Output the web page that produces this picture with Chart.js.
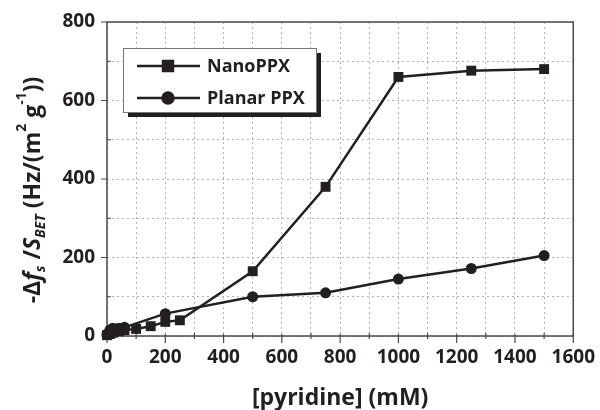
<!DOCTYPE html>
<html>
<head>
<meta charset="utf-8">
<script src="https://cdn.jsdelivr.net/npm/chart.js@4"></script>
<style>
  html, body { margin: 0; padding: 0; background: #fff; }
  #wrap { width: 600px; height: 410px; position: relative; }
</style>
</head>
<body>
<div id="wrap"><canvas id="chart" width="600" height="410"></canvas></div>
<script>
// --------- Data --------------------------------
const nanoX = [0, 10, 20, 40, 60, 100, 150, 200, 250, 500, 750, 1000, 1250, 1500];
const nanoY = [2, 5, 8, 12, 15, 18, 25, 36, 40, 165, 380, 660, 676, 680];
const planarX = [0, 10, 20, 40, 60, 200, 500, 750, 1000, 1250, 1500];
const planarY = [5, 15, 20, 20, 22, 57, 100, 110, 145, 172, 205];
const seriesLabels = ["NanoPPX", "Planar PPX"];
const xTitle = "[pyridine] (mM)";

const INK = "#231f20";
const FONT = "'Open Sans', 'DejaVu Sans', sans-serif";

function pts(xs, ys) {
  return xs.map((x, i) => ({ x, y: ys[i] }));
}

// frame on all four sides, tick marks, and the y title with sub/superscripts
const framePlugin = {
  id: "frame",
  beforeDatasetsDraw(chart) {
    const { ctx, chartArea: a, scales } = chart;
    ctx.save();
    ctx.strokeStyle = "#4a4a4a";
    ctx.lineWidth = 1.5;
    ctx.strokeRect(a.left, a.top, a.right - a.left, a.bottom - a.top);
    // ticks: major every 200 outward, minor every 100 short
    ctx.lineWidth = 1.2;
    ctx.beginPath();
    scales.x.ticks.forEach(t => {
      const px = scales.x.getPixelForValue(t.value);
      const major = t.value % 200 === 0;
      ctx.moveTo(px, a.bottom - (major ? 2 : 3));
      ctx.lineTo(px, a.bottom + (major ? 7 : 3));
    });
    scales.y.ticks.forEach(t => {
      const py = scales.y.getPixelForValue(t.value);
      const major = t.value % 200 === 0;
      ctx.moveTo(a.left - (major ? 6 : 0), py);
      ctx.lineTo(a.left + (major ? 0 : 4), py);
    });
    ctx.stroke();
    ctx.restore();
  },
  afterDraw(chart) {
    const ctx = chart.ctx;
    // pieces: [text, italic, shift (0 normal, 1 sub, -1 sup)]
    const parts = [
      ["-\u0394", false, 0], ["f", true, 0], ["s", true, 1], [" /", false, 0],
      ["S", true, 0], ["BET", true, 1], [" (Hz/(m", false, 0], ["2", false, -1],
      [" g", false, 0], ["-1", false, -1], ["))", false, 0]
    ];
    const big = 23, small = 14;
    const fontOf = p => (p[1] ? "italic " : "") + "bold " + (p[2] ? small : big) + "px " + FONT;
    ctx.save();
    let total = 0;
    parts.forEach(p => { ctx.font = fontOf(p); total += ctx.measureText(p[0]).width; });
    ctx.translate(33, 190);
    ctx.rotate(-Math.PI / 2);
    ctx.fillStyle = INK;
    ctx.textBaseline = "middle";
    let x = -total / 2;
    parts.forEach(p => {
      ctx.font = fontOf(p);
      const dy = p[2] === 1 ? 8 : p[2] === -1 ? -11 : 0;
      ctx.fillText(p[0], x, dy);
      x += ctx.measureText(p[0]).width;
    });
    ctx.restore();
  }
};

// boxed legend with a drop shadow
const legendBox = {
  id: "legendBox",
  afterDraw(chart) {
    const ctx = chart.ctx;
    const bx = 123, by = 48, bw = 193, bh = 64;
    ctx.save();
    ctx.fillStyle = INK;
    ctx.fillRect(bx + 5, by + 5, bw, bh);
    ctx.fillStyle = "#fff";
    ctx.fillRect(bx, by, bw, bh);
    ctx.strokeStyle = "#777";
    ctx.lineWidth = 1;
    ctx.strokeRect(bx + 0.5, by + 0.5, bw, bh);
    const rows = [66, 98];
    chart.data.datasets.forEach((ds, i) => {
      const y = rows[i];
      ctx.strokeStyle = INK;
      ctx.lineWidth = 2.5;
      ctx.beginPath();
      ctx.moveTo(137, y);
      ctx.lineTo(200, y);
      ctx.stroke();
      ctx.fillStyle = INK;
      Chart.helpers.drawPoint(ctx, { pointStyle: ds.pointStyle, radius: ds.pointRadius, borderWidth: 1 }, 168, y);
      ctx.font = "bold 18px " + FONT;
      ctx.textBaseline = "middle";
      ctx.fillText(ds.label, 207, y + 1);
    });
    ctx.restore();
  }
};

const gridOpts = {
  color: "#b4b4b4",
  drawTicks: true,
  tickLength: 5,
  tickColor: "rgba(0,0,0,0)"
};

const ctx = document.getElementById("chart").getContext("2d");
new Chart(ctx, {
  type: "line",
  data: {
    datasets: [
      {
        label: seriesLabels[0],
        data: pts(nanoX, nanoY),
        borderColor: INK,
        backgroundColor: INK,
        borderWidth: 2.5,
        pointStyle: "rect",
        pointRadius: 7,
        pointBorderWidth: 0,
        tension: 0,
        clip: false
      },
      {
        label: seriesLabels[1],
        data: pts(planarX, planarY),
        borderColor: INK,
        backgroundColor: INK,
        borderWidth: 2.5,
        pointStyle: "circle",
        pointRadius: 5.5,
        pointBorderWidth: 0,
        tension: 0,
        clip: false
      }
    ]
  },
  options: {
    responsive: false,
    animation: false,
    layout: { padding: { left: 0, top: 22, right: 24, bottom: 0 } },
    plugins: { legend: { display: false }, tooltip: { enabled: false } },
    scales: {
      x: {
        type: "linear",
        min: 0, max: 1600,
        afterFit: s => { s.height = 74; },
        grid: gridOpts,
        border: { display: false, dash: [2, 3] },
        ticks: {
          stepSize: 100,
          autoSkip: false,
          maxRotation: 0,
          padding: 5,
          color: INK,
          font: { family: FONT, size: 19, weight: "bold" },
          callback: v => (v % 200 === 0 ? v : "")
        },
        title: {
          display: true,
          text: xTitle,
          color: INK,
          font: { family: FONT, size: 23, weight: "bold" },
          padding: { top: 0, bottom: -2 }
        }
      },
      y: {
        min: 0, max: 800,
        afterFit: s => { s.width = 107; },
        grid: gridOpts,
        border: { display: false, dash: [2, 3] },
        ticks: {
          stepSize: 100,
          autoSkip: false,
          padding: 7,
          color: INK,
          font: { family: FONT, size: 19, weight: "bold" },
          callback: v => (v % 200 === 0 ? v : "")
        }
      }
    }
  },
  plugins: [framePlugin, legendBox]
});
</script>
</body>
</html>
